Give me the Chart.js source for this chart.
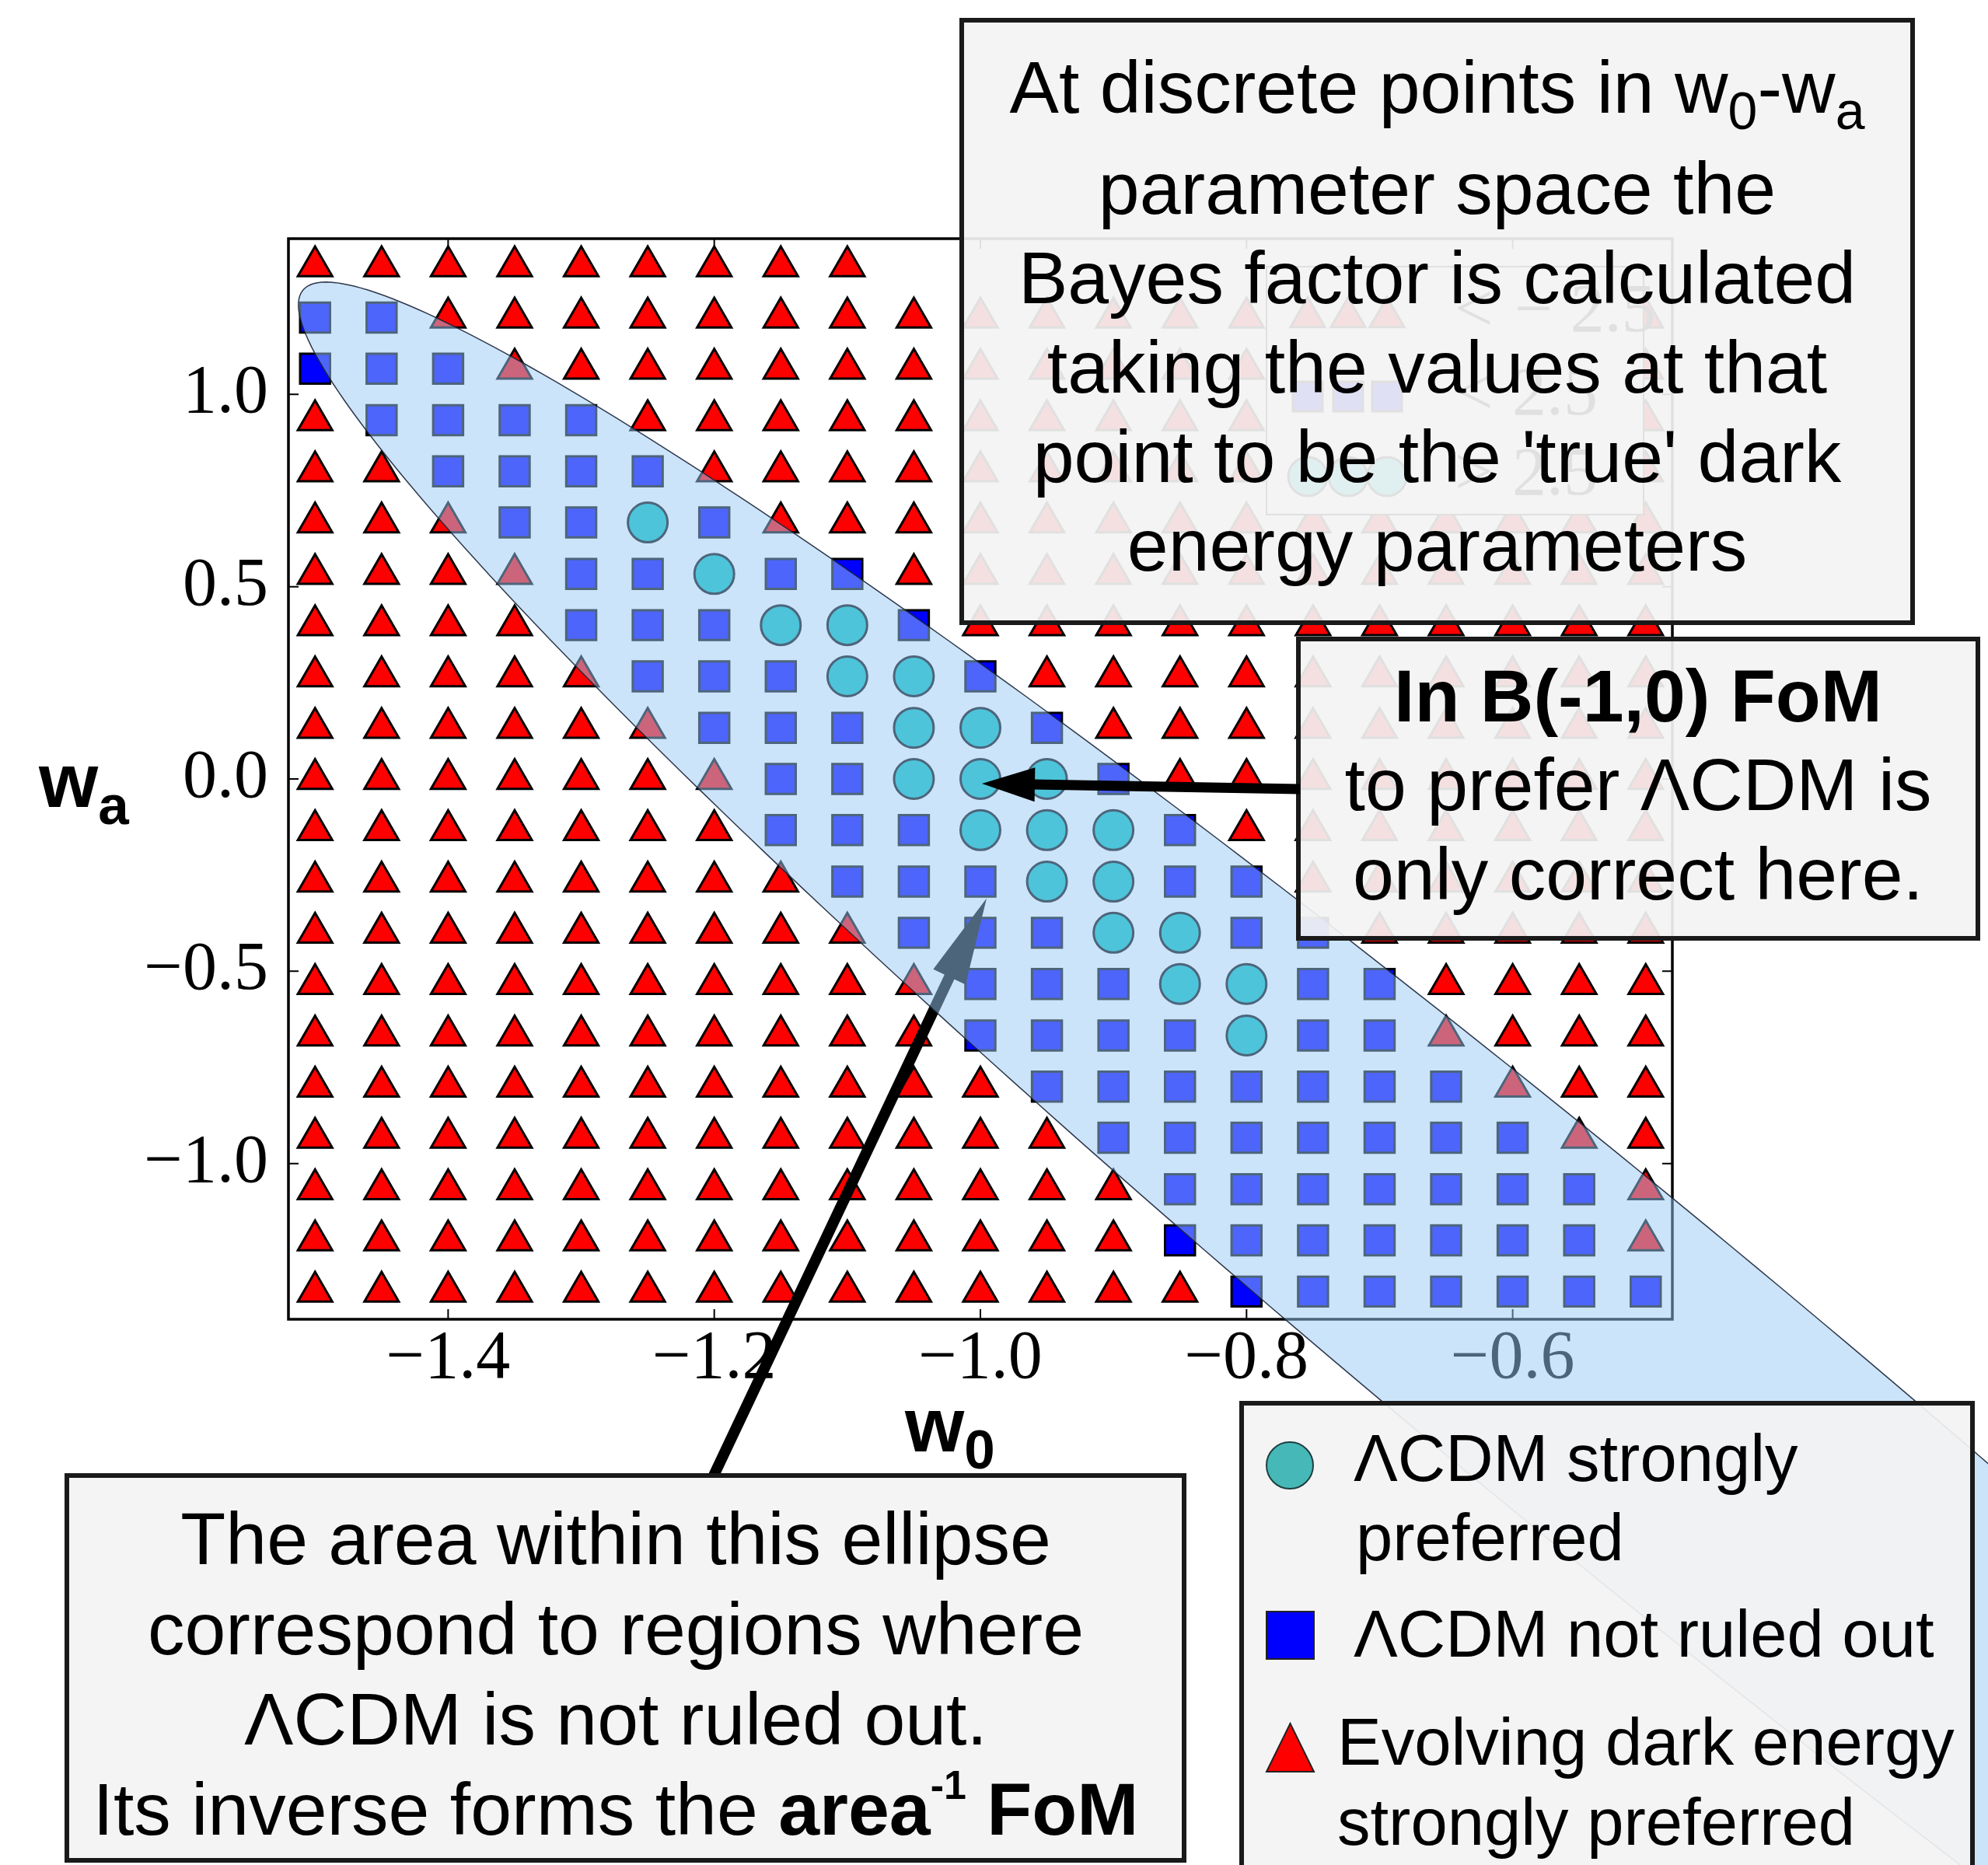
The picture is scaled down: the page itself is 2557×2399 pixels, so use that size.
<!DOCTYPE html>
<html>
<head>
<meta charset="utf-8">
<script src="https://cdn.jsdelivr.net/npm/chart.js@4.4.0/dist/chart.umd.min.js"></script>
<style>
    html, body { margin: 0; padding: 0; background: #fff; overflow: hidden; }
    canvas { display: block; }
</style>
</head>
<body>
<canvas id="bayes-chart" width="2557" height="2399"></canvas>
<script>
(function() {
    'use strict';

    /**
     * Grid of true dark energy parameters
     */
    var w0Values = [-1.50, -1.45, -1.40, -1.35, -1.30, -1.25, -1.20, -1.15, -1.10, -1.05, -1.00,
                    -0.95, -0.90, -0.85, -0.80, -0.75, -0.70, -0.65, -0.60, -0.55, -0.50];
    var waValues = [1.333, 1.200, 1.067, 0.933, 0.800, 0.667, 0.533, 0.400, 0.267, 0.133, 0.000,
                    -0.133, -0.267, -0.400, -0.533, -0.667, -0.800, -0.933, -1.067, -1.200, -1.333];

    /**
     * Outcome at each grid point, one string per wa row (top to bottom), one char per w0 column.
     * C = LCDM strongly preferred, S = LCDM not ruled out, T = evolving DE preferred, . = no point
     */
    var outcomeRows = [
        'TTTTTTTTT............',
        'SSTTTTTTTTTTTTTTTTTTT',
        'SSSTTTTTTTTTTTTTTTTTT',
        'TSSSSTTTTTTTTTTTTTTTT',
        'TTSSSSTTTTTTTTTTTTTTT',
        'TTTSSCSTTTTTTTTTTTTTT',
        'TTTTSSCSSTTTTTTTTTTTT',
        'TTTTSSSCCSTTTTTTTTTTT',
        'TTTTTSSSCCSTTTTTTTTTT',
        'TTTTTTSSSCCSTTTTTTTTT',
        'TTTTTTTSSCCCSTTTTTTTT',
        'TTTTTTTSSSCCCSTTTTTTT',
        'TTTTTTTTSSSCCSSTTTTTT',
        'TTTTTTTTTSSSCCSSTTTTT',
        'TTTTTTTTTTSSSCCSSTTTT',
        'TTTTTTTTTTSSSSCSSTTTT',
        'TTTTTTTTTTTSSSSSSSTTT',
        'TTTTTTTTTTTTSSSSSSSTT',
        'TTTTTTTTTTTTTSSSSSSST',
        'TTTTTTTTTTTTTSSSSSSST',
        'TTTTTTTTTTTTTTSSSSSSS'
    ];

    var xTickValues = [-1.4, -1.2, -1.0, -0.8, -0.6];
    var yTickValues = [-1.0, -0.5, 0.0, 0.5, 1.0];
    var insetLegendLabels = ['\u2212 2.5', '2.5', '2.5'];
    var insetLegendSigns = ['<', '<', '>'];

    /**
     * Ellipse (data units): centre, semi-major and semi-minor vectors
     */
    var ellipseCenter = [-0.5326, -1.5163];
    var ellipseMajor = [0.9765, -2.7874];
    var ellipseMinor = [-0.0818, -0.3435];

    var SANS = '"Liberation Sans", Arial, sans-serif';
    var SERIF = '"Liberation Serif", "Times New Roman", serif';

    /**
     * Split the grid into one point list per outcome
     */
    function pointsFor(code) {
        var pts = [];
        for (var r = 0; r < outcomeRows.length; r++) {
            for (var c = 0; c < w0Values.length; c++) {
                if (outcomeRows[r].charAt(c) === code) {
                    pts.push({ x: w0Values[c], y: waValues[r] });
                }
            }
        }
        return pts;
    }

    function formatTick(v) {
        return (v < 0 ? '\u2212' : '') + Math.abs(v).toFixed(1);
    }

    function toPx(chart, x, y) {
        return [chart.scales.x.getPixelForValue(x), chart.scales.y.getPixelForValue(y)];
    }

    function font(size, bold) {
        return (bold ? 'bold ' : '') + size + 'px ' + SANS;
    }

    /**
     * Measure / draw a line made of segments {t, b, v}; v = 'sub' | 'sup'
     */
    function segSize(seg, size) {
        if (seg.v === 'sub') return Math.round(size * 0.72);
        if (seg.v === 'sup') return Math.round(size * 0.55);
        return size;
    }

    function richWidth(ctx, segs, size) {
        var w = 0;
        segs.forEach(function(s) {
            ctx.font = font(segSize(s, size), s.b);
            w += ctx.measureText(s.t).width;
        });
        return w;
    }

    function drawRich(ctx, segs, x, base, size, align) {
        var w = richWidth(ctx, segs, size);
        var cx = align === 'left' ? x : x - w / 2;
        ctx.textAlign = 'left';
        ctx.textBaseline = 'alphabetic';
        ctx.fillStyle = '#000';
        segs.forEach(function(s) {
            var fs = segSize(s, size);
            var dy = s.v === 'sub' ? size * 0.22 : (s.v === 'sup' ? -size * 0.48 : 0);
            ctx.font = font(fs, s.b);
            ctx.fillText(s.t, cx, base + dy);
            cx += ctx.measureText(s.t).width;
        });
    }

    function plain(t) { return [{ t: t }]; }

    function drawBox(ctx, x, y, w, h) {
        ctx.fillStyle = 'rgba(243,243,243,0.92)';
        ctx.fillRect(x, y, w, h);
        ctx.strokeStyle = '#1a1a1a';
        ctx.lineWidth = 6;
        ctx.strokeRect(x, y, w, h);
    }

    function drawArrow(ctx, x0, y0, x1, y1, width, headLen, headHalf) {
        var dx = x1 - x0, dy = y1 - y0;
        var len = Math.sqrt(dx * dx + dy * dy);
        var ux = dx / len, uy = dy / len;
        var bx = x1 - ux * headLen, by = y1 - uy * headLen;
        ctx.strokeStyle = '#000';
        ctx.fillStyle = '#000';
        ctx.lineWidth = width;
        ctx.lineCap = 'butt';
        ctx.beginPath();
        ctx.moveTo(x0, y0);
        ctx.lineTo(bx + ux * 3, by + uy * 3);
        ctx.stroke();
        ctx.beginPath();
        ctx.moveTo(x1, y1);
        ctx.lineTo(bx - uy * headHalf, by + ux * headHalf);
        ctx.lineTo(bx + uy * headHalf, by - ux * headHalf);
        ctx.closePath();
        ctx.fill();
    }

    function triangle(ctx, x, y, r) {
        ctx.beginPath();
        ctx.moveTo(x, y - r);
        ctx.lineTo(x + 0.866 * r, y + 0.5 * r);
        ctx.lineTo(x - 0.866 * r, y + 0.5 * r);
        ctx.closePath();
    }

    /**
     * Legend of the original plot, later covered by the text box
     */
    function drawInsetLegend(ctx) {
        ctx.fillStyle = '#fff';
        ctx.fillRect(1629, 343, 485, 319);
        ctx.strokeStyle = '#000';
        ctx.lineWidth = 2;
        ctx.strokeRect(1629, 343, 485, 319);

        var xs = [1682, 1734, 1784];
        ctx.lineWidth = 3;
        xs.forEach(function(x) {
            triangle(ctx, x, 408, 25.5);
            ctx.fillStyle = '#ff0000';
            ctx.fill();
            ctx.stroke();

            ctx.beginPath();
            ctx.rect(x - 19, 510 - 19, 38, 38);
            ctx.fillStyle = '#0000ff';
            ctx.fill();
            ctx.stroke();

            ctx.beginPath();
            ctx.arc(x, 613, 25, 0, Math.PI * 2);
            ctx.fillStyle = 'rgb(0,191,191)';
            ctx.fill();
            ctx.stroke();
        });

        ctx.fillStyle = '#000';
        ctx.font = '88px ' + SERIF;
        ctx.textAlign = 'left';
        ctx.textBaseline = 'middle';
        [403, 510, 613].forEach(function(y, i) {
            ctx.fillText(insetLegendSigns[i], 1871, y);
            ctx.fillText(insetLegendLabels[i], i === 0 ? 1948 : 1945, y);
        });
    }

    function drawEllipse(chart, ctx) {
        ctx.beginPath();
        for (var k = 0; k <= 360; k++) {
            var t = k * Math.PI / 180;
            var c = Math.cos(t), s = Math.sin(t);
            var p = toPx(chart,
                ellipseCenter[0] + ellipseMajor[0] * c + ellipseMinor[0] * s,
                ellipseCenter[1] + ellipseMajor[1] * c + ellipseMinor[1] * s);
            if (k === 0) ctx.moveTo(p[0], p[1]); else ctx.lineTo(p[0], p[1]);
        }
        ctx.closePath();
        ctx.fillStyle = 'rgba(153,201,245,0.5)';
        ctx.fill();
        ctx.strokeStyle = 'rgba(25,35,55,0.9)';
        ctx.lineWidth = 1.5;
        ctx.stroke();
    }

    var framePlugin = {
        id: 'frame',
        beforeDraw: function(chart) {
            var ctx = chart.ctx;
            ctx.save();
            ctx.fillStyle = '#fff';
            ctx.fillRect(0, 0, chart.width, chart.height);
            ctx.restore();
        },
        beforeDatasetsDraw: function(chart) {
            var ctx = chart.ctx, a = chart.chartArea;
            ctx.save();
            ctx.strokeStyle = '#000';
            ctx.lineWidth = 2;
            xTickValues.forEach(function(v) {
                var px = chart.scales.x.getPixelForValue(v);
                ctx.beginPath();
                ctx.moveTo(px, a.bottom); ctx.lineTo(px, a.bottom - 13);
                ctx.moveTo(px, a.top); ctx.lineTo(px, a.top + 13);
                ctx.stroke();
            });
            yTickValues.forEach(function(v) {
                var py = chart.scales.y.getPixelForValue(v);
                ctx.beginPath();
                ctx.moveTo(a.left, py); ctx.lineTo(a.left + 13, py);
                ctx.moveTo(a.right, py); ctx.lineTo(a.right - 13, py);
                ctx.stroke();
            });
            ctx.lineWidth = 3.5;
            ctx.strokeRect(a.left, a.top, a.right - a.left, a.bottom - a.top);
            ctx.restore();
        },
        afterDraw: function(chart) {
            var ctx = chart.ctx;
            ctx.save();

            drawInsetLegend(ctx);

            // arrow pointing at the ellipse (sits below the ellipse)
            var tip2 = toPx(chart, -1.0, -0.3);
            drawArrow(ctx, 918, 1898, tip2[0] + 8, tip2[1] + 5, 14, 112, 23);

            drawEllipse(chart, ctx);

            // axis labels
            drawRich(ctx, [{ t: 'w', b: true }, { t: 'a', b: true, v: 'sub' }], 50, 1038, 98, 'left');
            drawRich(ctx, [{ t: 'w', b: true }, { t: '0', b: true, v: 'sub' }], 1164, 1867, 98, 'left');

            // top explanation box
            drawBox(ctx, 1237, 26, 1223, 775);
            var cx = 1237 + 1223 / 2;
            drawRich(ctx, [{ t: 'At discrete points in w' }, { t: '0', v: 'sub' }, { t: '-w' }, { t: 'a', v: 'sub' }], cx, 145, 95);
            drawRich(ctx, plain('parameter space the'), cx, 275, 95);
            drawRich(ctx, plain('Bayes factor is calculated'), cx, 390, 95);
            drawRich(ctx, plain('taking the values at that'), cx, 505, 95);
            drawRich(ctx, plain('point to be the \'true\' dark'), cx, 620, 95);
            drawRich(ctx, plain('energy parameters'), cx, 734, 95);

            // B(-1,0) box
            drawBox(ctx, 1670, 822, 874, 385);
            cx = 1670 + 874 / 2;
            drawRich(ctx, [{ t: 'In B(-1,0) FoM', b: true }], cx, 928, 95);
            drawRich(ctx, plain('to prefer \u039BCDM is'), cx, 1042, 95);
            drawRich(ctx, plain('only correct here.'), cx, 1157, 95);

            var tip1 = toPx(chart, -1.0, 0.0);
            drawArrow(ctx, 1672, 1015, tip1[0] + 2, tip1[1] + 6, 13, 68, 22);

            // area box
            drawBox(ctx, 86, 1898, 1437, 495);
            cx = 792;
            drawRich(ctx, plain('The area within this ellipse'), cx, 2012, 95);
            drawRich(ctx, plain('correspond to regions where'), cx, 2128, 95);
            drawRich(ctx, plain('\u039BCDM is not ruled out.'), cx, 2244, 95);
            drawRich(ctx, [{ t: 'Its inverse forms the ' }, { t: 'area', b: true },
                { t: '-1', b: true, v: 'sup' }, { t: ' FoM', b: true }], cx, 2360, 95);

            // legend box
            drawBox(ctx, 1597, 1805, 940, 640);
            ctx.lineWidth = 2;
            ctx.strokeStyle = '#1f3f3f';
            ctx.beginPath();
            ctx.arc(1659, 1885, 30, 0, Math.PI * 2);
            ctx.fillStyle = 'rgb(70,184,184)';
            ctx.fill();
            ctx.stroke();
            ctx.strokeStyle = '#222';
            ctx.fillStyle = '#0000ff';
            ctx.fillRect(1629, 2073, 61, 61);
            ctx.strokeRect(1629, 2073, 61, 61);
            ctx.beginPath();
            ctx.moveTo(1659.5, 2217);
            ctx.lineTo(1690, 2279);
            ctx.lineTo(1629, 2279);
            ctx.closePath();
            ctx.fillStyle = '#ff0000';
            ctx.fill();
            ctx.stroke();
            drawRich(ctx, plain('\u039BCDM strongly'), 1741, 1905, 85, 'left');
            drawRich(ctx, plain('preferred'), 1744, 2007, 85, 'left');
            drawRich(ctx, plain('\u039BCDM not ruled out'), 1741, 2131, 85, 'left');
            drawRich(ctx, plain('Evolving dark energy'), 1720, 2270, 85, 'left');
            drawRich(ctx, plain('strongly preferred'), 1720, 2373, 85, 'left');

            ctx.restore();
        }
    };

    var ctx = document.getElementById('bayes-chart');

    new Chart(ctx, {
        type: 'scatter',
        data: {
            datasets: [{
                label: '\u039BCDM strongly preferred',
                data: pointsFor('C'),
                pointStyle: 'circle',
                pointRadius: 25.5,
                backgroundColor: 'rgb(0,191,191)',
                borderColor: '#000',
                borderWidth: 3
            }, {
                label: '\u039BCDM not ruled out',
                data: pointsFor('S'),
                pointStyle: 'rect',
                pointRadius: 27.2,
                backgroundColor: '#0000ff',
                borderColor: '#000',
                borderWidth: 3
            }, {
                label: 'Evolving dark energy strongly preferred',
                data: pointsFor('T'),
                pointStyle: 'triangle',
                pointRadius: 25.5,
                backgroundColor: '#ff0000',
                borderColor: '#000',
                borderWidth: 3
            }]
        },
        options: {
            responsive: false,
            animation: false,
            devicePixelRatio: 1,
            clip: false,
            layout: {
                padding: { top: 307, right: 406, left: 0, bottom: 0 }
            },
            plugins: {
                legend: { display: false },
                tooltip: { enabled: false }
            },
            scales: {
                x: {
                    type: 'linear',
                    min: -1.52,
                    max: -0.48,
                    grid: { display: false },
                    border: { display: false },
                    afterBuildTicks: function(scale) {
                        scale.ticks = xTickValues.map(function(v) { return { value: v }; });
                    },
                    afterFit: function(scale) { scale.height = 702; },
                    ticks: {
                        padding: 0,
                        maxRotation: 0,
                        autoSkip: false,
                        color: '#000',
                        font: { family: SERIF, size: 88, lineHeight: 1 },
                        callback: formatTick
                    }
                },
                y: {
                    type: 'linear',
                    min: -1.405,
                    max: 1.405,
                    grid: { display: false },
                    border: { display: false },
                    afterBuildTicks: function(scale) {
                        scale.ticks = yTickValues.map(function(v) { return { value: v }; });
                    },
                    afterFit: function(scale) { scale.width = 371; },
                    ticks: {
                        padding: 18,
                        autoSkip: false,
                        color: '#000',
                        font: { family: SERIF, size: 88, lineHeight: 1 },
                        callback: formatTick
                    }
                }
            }
        },
        plugins: [framePlugin]
    });
})();
</script>
</body>
</html>
